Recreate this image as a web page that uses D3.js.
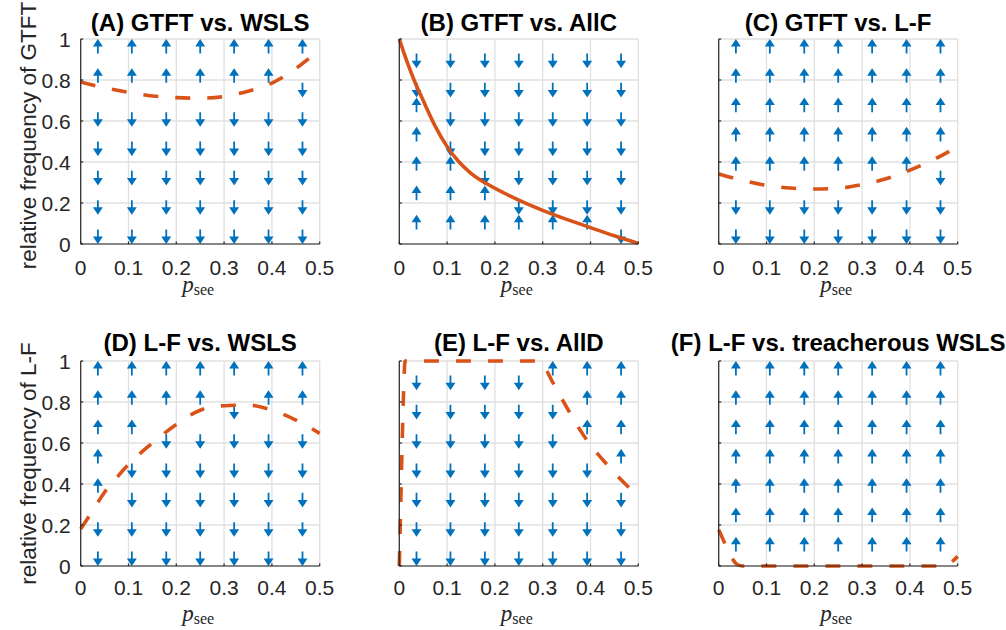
<!DOCTYPE html>
<html>
<head>
<meta charset="UTF-8">
<title>Replicator dynamics panels</title>
<script src="https://cdn.jsdelivr.net/npm/d3@7"></script>
<style>
  body { margin: 0; background: #fff; }
  text { font-family: "Liberation Sans", Arial, sans-serif; fill: #262626; }
  .title { font-weight: bold; fill: #000; text-anchor: middle; }
  .grid line { stroke: #e0e0e0; stroke-width: 1.3px; }
  .axisline { stroke: #262626; stroke-width: 1.2px; }
  .arrow { stroke: #0072bd; fill: #0072bd; }
  .curve { fill: none; stroke: #d95319; stroke-width: 3.6px; }
</style>
</head>
<body>
<svg width="1006" height="630"></svg>
<script>
// ---- data ----
var titles = ["(A) GTFT vs. WSLS", "(B) GTFT vs. AllC", "(C) GTFT vs. L-F",
              "(D) L-F vs. WSLS", "(E) L-F vs. AllD", "(F) L-F vs. treacherous WSLS"];
var yLabels = ["relative frequency of GTFT", "relative frequency of L-F"];
var xTicks = [0, 0.1, 0.2, 0.3, 0.4, 0.5];
var yTicks = [0, 0.2, 0.4, 0.6, 0.8, 1];
var xTickLabels = ["0", "0.1", "0.2", "0.3", "0.4", "0.5"];
var yTickLabels = ["0", "0.2", "0.4", "0.6", "0.8", "1"];

// quiver grid (tails of the arrows)
var arrowX = [0.036, 0.107, 0.179, 0.25, 0.321, 0.393, 0.464];
var arrowY = [0.929, 0.786, 0.643, 0.5, 0.357, 0.214, 0.071];

// arrow direction, one string per row from top to bottom, u = up, d = down
var dirsA = ["uuuuuuu", "uuuuuud", "ddddddd", "ddddddd", "ddddddd", "ddddddd", "ddddddd"];
var dirsB = ["ddddddd", "ddddddd", "udddddd", "udddddd", "uuddddd", "uuudddd", "uuuuuud"];
var dirsC = ["uuuuuuu", "uuuuuuu", "uuuuuuu", "uuuuuuu", "uuuuuud", "ddddddd", "ddddddd"];
var dirsD = ["uuuuuuu", "uuuuduu", "uuddddd", "udddddd", "udddddd", "ddddddd", "ddddddd"];
var dirsE = ["dddduuu", "ddddduu", "ddddduu", "ddddddu", "ddddddd", "ddddddd", "ddddddd"];
var dirsF = ["uuuuuuu", "uuuuuuu", "uuuuuuu", "uuuuuuu", "uuuuuuu", "uuuuuuu", "uuuuuuu"];

// equilibrium curves [p_see, relative frequency]
var curveA = [[0,0.79],[0.05,0.762],[0.1,0.74],[0.15,0.722],[0.2,0.714],[0.25,0.711],
              [0.3,0.72],[0.35,0.745],[0.4,0.785],[0.45,0.855],[0.48,0.91],[0.5,0.945]];
var curveB = [[0,1],[0.01,0.93],[0.02,0.865],[0.03,0.805],[0.05,0.7],[0.075,0.575],[0.1,0.475],
              [0.125,0.4],[0.15,0.345],[0.2,0.272],[0.25,0.214],[0.3,0.164],[0.35,0.12],
              [0.4,0.08],[0.45,0.04],[0.5,0.003]];
var curveC = [[0,0.342],[0.05,0.31],[0.1,0.286],[0.15,0.273],[0.2,0.268],[0.25,0.272],
              [0.3,0.29],[0.35,0.318],[0.4,0.36],[0.45,0.412],[0.5,0.475]];
var curveD = [[0,0.18],[0.025,0.27],[0.05,0.36],[0.075,0.43],[0.1,0.495],[0.15,0.6],
              [0.2,0.69],[0.25,0.76],[0.3,0.782],[0.35,0.785],[0.4,0.76],[0.45,0.712],[0.5,0.647]];
var curveE = [[0,0],[0.003,0.3],[0.006,0.6],[0.009,0.85],[0.012,1],[0.1,1],[0.2,1],[0.29,1],
              [0.3,0.985],[0.32,0.9],[0.35,0.775],[0.375,0.675],[0.4,0.59],[0.425,0.52],
              [0.45,0.455],[0.475,0.395],[0.5,0.343]];
var curveF = [[0,0.177],[0.01,0.125],[0.02,0.075],[0.025,0.05],[0.03,0.03],[0.035,0.015],
              [0.04,0.006],[0.05,0],[0.47,0],[0.48,0.008],[0.49,0.025],[0.5,0.047]];

var curves = [curveA, curveB, curveC, curveD, curveE, curveF];
var dirs = [dirsA, dirsB, dirsC, dirsD, dirsE, dirsF];
var dashed = [true, false, true, true, true, true];

// ---- layout ----
var colLeft = [80.7, 399.3, 718.7], plotW = 239;
var rowTop = [39, 361], plotH = 205;
var tickBase = [275, 595], xlabBase = [292, 621], titleBase = [31, 351];
var ylabShift = [-6, 0];

var svg = d3.select("svg");

titles.forEach(function (t, k) {
    var r = Math.floor(k / 3), c = k % 3;
    var x = d3.scaleLinear().domain([0, 0.5]).range([colLeft[c], colLeft[c] + plotW]);
    var y = d3.scaleLinear().domain([0, 1]).range([rowTop[r] + plotH, rowTop[r]]);
    var g = svg.append("g");

    // grid
    var grid = g.append("g").attr("class", "grid");
    grid.selectAll(".gx").data(xTicks).enter().append("line")
        .attr("x1", d => x(d)).attr("x2", d => x(d))
        .attr("y1", y(0)).attr("y2", y(1));
    grid.selectAll(".gy").data(yTicks).enter().append("line")
        .attr("x1", x(0)).attr("x2", x(0.5))
        .attr("y1", d => y(d)).attr("y2", d => y(d));

    // arrows
    var L = 13, hl = 5, hw = 3.3;
    var cells = [];
    dirs[k].forEach(function (row, i) {
        row.split("").forEach(function (ch, j) {
            cells.push({ x: arrowX[j], y: arrowY[i], s: ch === "u" ? -1 : 1 });
        });
    });
    var ag = g.append("g").attr("class", "arrow");
    ag.selectAll("path").data(cells).enter().append("path")
        .attr("d", function (d) {
            var px = x(d.x), py = y(d.y), tip = py + d.s * L;
            return "M" + px + "," + py + "L" + px + "," + (tip - d.s * hl) +
                   "M" + px + "," + tip + "L" + (px - hw) + "," + (tip - d.s * hl) +
                   "L" + (px + hw) + "," + (tip - d.s * hl) + "Z";
        })
        .style("stroke-width", "1.8px")
        .style("stroke-linejoin", "miter");

    // curve
    var line = d3.line().x(d => x(d[0])).y(d => y(d[1])).curve(d3.curveMonotoneX);
    g.append("path").datum(curves[k]).attr("class", "curve")
        .attr("d", line)
        .style("stroke-dasharray", dashed[k] ? "15,17" : null);

    // axis lines and inward ticks
    g.append("line").attr("class", "axisline")
        .attr("x1", x(0)).attr("x2", x(0)).attr("y1", y(0)).attr("y2", y(1));
    g.append("line").attr("class", "axisline")
        .attr("x1", x(0)).attr("x2", x(0.5)).attr("y1", y(0)).attr("y2", y(0));
    g.selectAll(".ty").data(yTicks).enter().append("line").attr("class", "axisline")
        .attr("x1", x(0)).attr("x2", x(0) + 2.5).attr("y1", d => y(d)).attr("y2", d => y(d));
    g.selectAll(".tx").data(xTicks).enter().append("line").attr("class", "axisline")
        .attr("x1", d => x(d)).attr("x2", d => x(d)).attr("y1", y(0)).attr("y2", y(0) - 2.5);

    // tick labels
    g.selectAll(".xl").data(xTicks).enter().append("text")
        .attr("x", d => x(d)).attr("y", tickBase[r])
        .attr("text-anchor", "middle").style("font-size", "21px")
        .text((d, i) => xTickLabels[i]);
    if (c === 0) {
        g.selectAll(".yl").data(yTicks).enter().append("text")
            .attr("x", x(0) - 10).attr("y", d => y(d)).attr("dy", "0.36em")
            .attr("text-anchor", "end").style("font-size", "21px")
            .text((d, i) => yTickLabels[i]);
        g.append("text")
            .attr("transform", "translate(36," + (y(0.5) + ylabShift[r]) + ") rotate(-90)")
            .attr("text-anchor", "middle").style("font-size", "22.5px")
            .text(yLabels[r]);
    }

    // x label p_see
    var xl = g.append("text").attr("x", x(0.25) - 2).attr("y", xlabBase[r])
        .attr("text-anchor", "middle");
    xl.append("tspan").style("font-family", "'Liberation Serif', serif")
        .style("font-style", "italic").style("font-size", "23px").text("p");
    xl.append("tspan").style("font-family", "'Liberation Serif', serif")
        .style("font-size", "16px").attr("dy", 3).text("see");

    // title
    g.append("text").attr("class", "title")
        .attr("x", x(0.25)).attr("y", titleBase[r])
        .style("font-size", "24px").text(t);
});
</script>
</body>
</html>
